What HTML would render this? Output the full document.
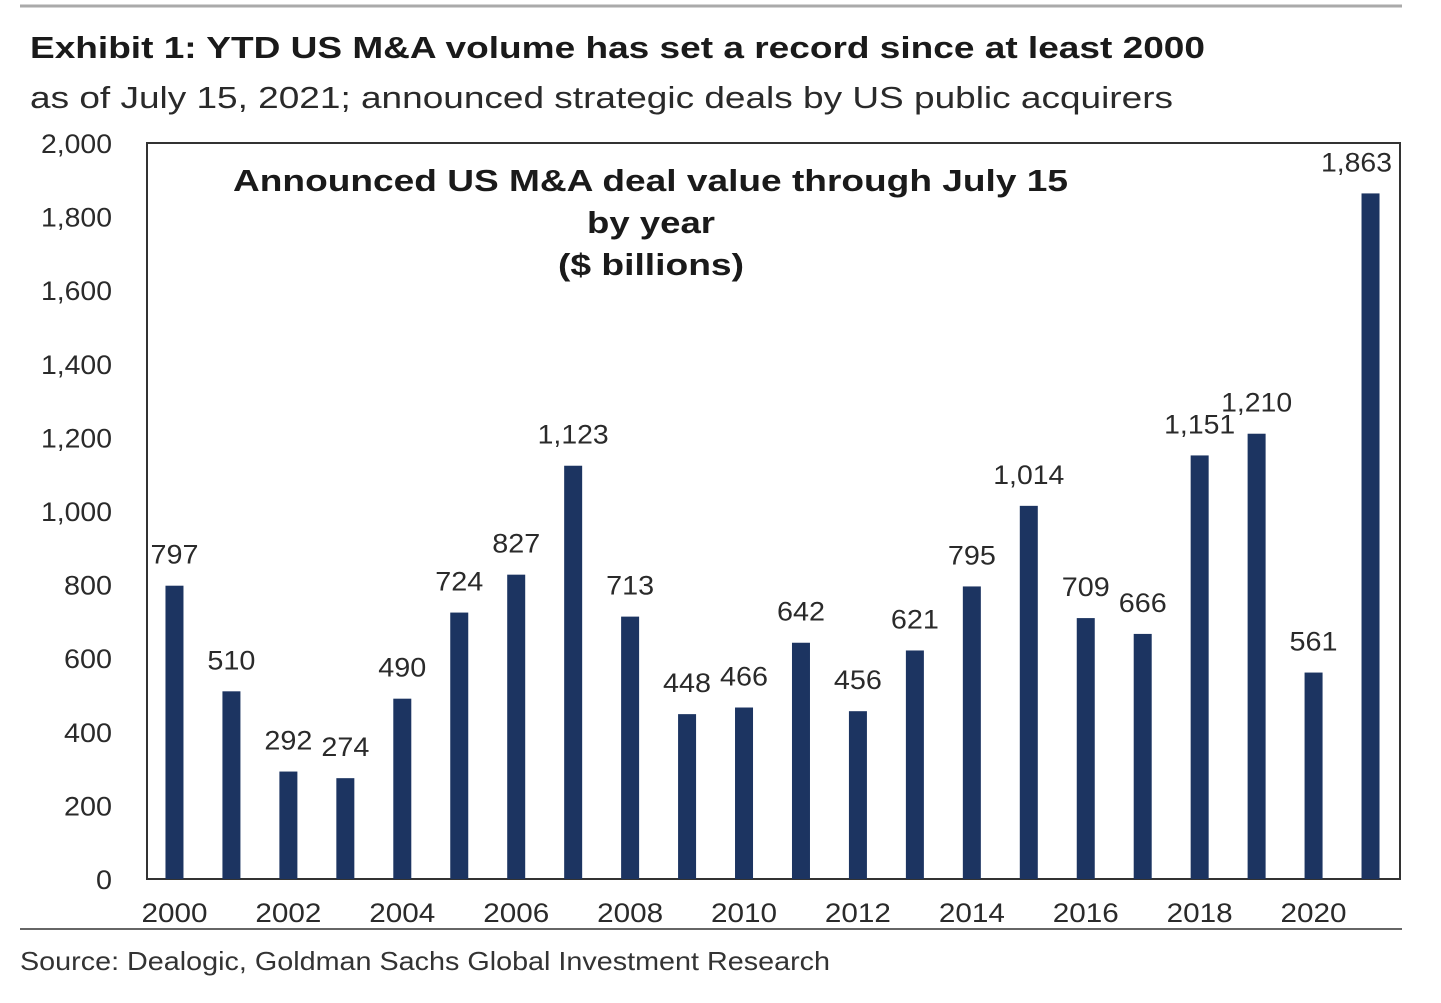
<!DOCTYPE html>
<html><head><meta charset="utf-8"><style>
body{margin:0;background:#fff;}
svg text{font-family:"Liberation Sans",Arial,sans-serif;}
</style></head><body>
<svg id="chart" width="1441" height="998" xmlns="http://www.w3.org/2000/svg">
<line x1="20" y1="6" x2="1402" y2="6" stroke="#aaa" stroke-width="3"/>
<text x="30" y="58" font-size="31" font-weight="bold" fill="#1a1a1a" textLength="1175" lengthAdjust="spacingAndGlyphs">Exhibit 1: YTD US M&amp;A volume has set a record since at least 2000</text>
<text x="30" y="108" font-size="31" fill="#2a2a2a" textLength="1143" lengthAdjust="spacingAndGlyphs">as of July 15, 2021; announced strategic deals by US public acquirers</text>
<rect x="147" y="143" width="1253" height="736" fill="none" stroke="#333" stroke-width="2"/>
<text x="233" y="191" font-size="31" font-weight="bold" fill="#1a1a1a" textLength="835" lengthAdjust="spacingAndGlyphs">Announced US M&amp;A deal value through July 15</text>
<text x="651" y="233" font-size="31" font-weight="bold" text-anchor="middle" fill="#1a1a1a" textLength="128" lengthAdjust="spacingAndGlyphs">by year</text>
<text x="651" y="275" font-size="31" font-weight="bold" text-anchor="middle" fill="#1a1a1a" textLength="186" lengthAdjust="spacingAndGlyphs">($ billions)</text>
<g id="yaxis"></g><g id="bars"></g><g id="xaxis"></g>
<line x1="20" y1="929" x2="1402" y2="929" stroke="#666" stroke-width="2"/>
<text x="20" y="970" font-size="26" fill="#333" textLength="810" lengthAdjust="spacingAndGlyphs">Source: Dealogic, Goldman Sachs Global Investment Research</text>
</svg>
<script>
const years=[2000,2001,2002,2003,2004,2005,2006,2007,2008,2009,2010,2011,2012,2013,2014,2015,2016,2017,2018,2019,2020,2021];
const values=[797,510,292,274,490,724,827,1123,713,448,466,642,456,621,795,1014,709,666,1151,1210,561,1863];
const yTicks=[0,200,400,600,800,1000,1200,1400,1600,1800,2000];
const NS="http://www.w3.org/2000/svg";
const x0=147,x1=1400,y0=879,y1=143,yMax=2000;
const step=(x1-x0)/years.length;
function xs(i){return x0+step*(i+0.5)-1;}
function ys(v){return y0-(y0-y1)*v/yMax;}
function mk(t,a,txt){const e=document.createElementNS(NS,t);for(const k in a)e.setAttribute(k,a[k]);if(txt!=null)e.textContent=txt;return e;}
const fmt=v=>v.toLocaleString('en-US');
const cw=s=>{let w=0;for(const c of s)w+=(c===','?7:16);return w;};
const ya=document.getElementById('yaxis'),ba=document.getElementById('bars'),xa=document.getElementById('xaxis');
yTicks.forEach(v=>{const s=fmt(v);const t=mk('text',{x:112,y:ys(v)+10,'font-size':27,'text-anchor':'end',fill:'#2a2a2a',textLength:cw(s),lengthAdjust:'spacingAndGlyphs'},s);


ya.appendChild(t);});
values.forEach((v,i)=>{const r=mk('rect',{x:xs(i)-9,y:ys(v),width:18,height:y0-ys(v),fill:'#1c3461'});


ba.appendChild(r);
const s=fmt(v);const w=cw(s);let cx=xs(i);if(cx+w/2>1392)cx=1392-w/2;
const l=mk('text',{x:cx,y:ys(v)-22,'font-size':27,'text-anchor':'middle',fill:'#2a2a2a',textLength:w,lengthAdjust:'spacingAndGlyphs'},s);


ba.appendChild(l);
if(years[i]%2===0){const t=mk('text',{x:xs(i),y:922,'font-size':27,'text-anchor':'middle',fill:'#2a2a2a',textLength:66,lengthAdjust:'spacingAndGlyphs'},String(years[i]));


xa.appendChild(t);}
});
</script>
</body></html>
